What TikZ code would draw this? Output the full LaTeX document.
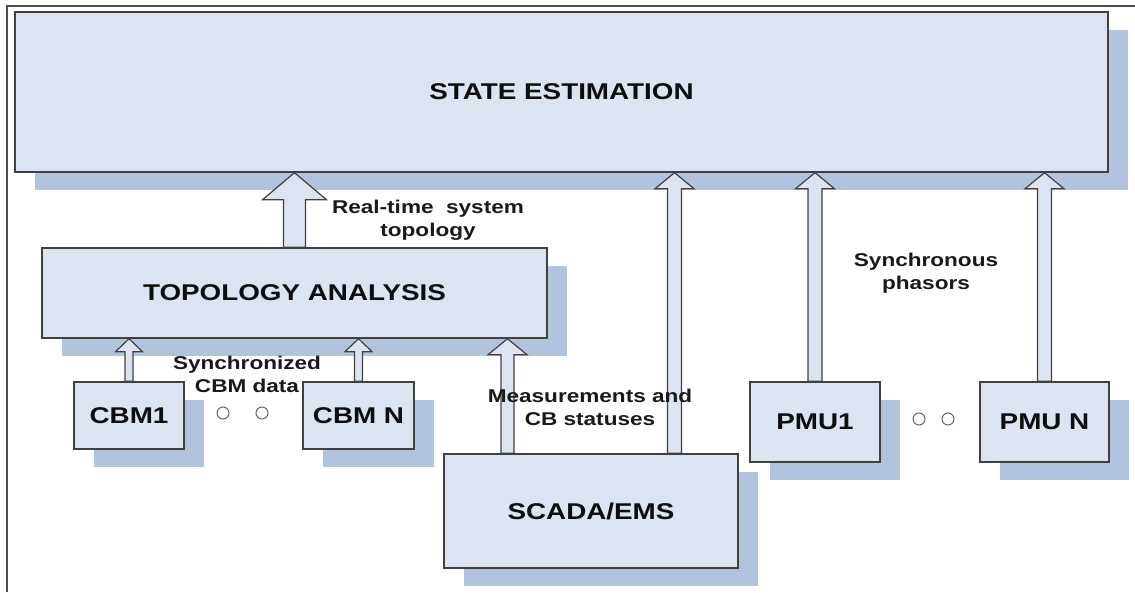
\documentclass[tikz,border=0pt]{standalone}
\usepackage{fontspec}
\setmainfont{Liberation Sans}[FakeStretch=1.22]
\usetikzlibrary{calc,shadows}
\definecolor{boxfill}{RGB}{220,227,241}
\definecolor{shadowblue}{RGB}{176,196,224}
\definecolor{edge}{RGB}{64,64,64}
\newcommand{\boxfont}{\fontsize{22.8}{27}\selectfont\bfseries}
\newcommand{\lblfont}{\fontsize{18.5}{23}\selectfont\bfseries}
\newcommand{\blockup}[5]{\draw[hollow] ($(#1)+(-#3,0)$) -- ($(#2)+(-#3,#5)$) -- ($(#2)+(-#4,#5)$) -- (#2) -- ($(#2)+(#4,#5)$) -- ($(#2)+(#3,#5)$) -- ($(#1)+(#3,0)$) -- cycle;}

\begin{document}
\begin{tikzpicture}[x=1pt,y=-1pt]
                        \tikzstyle{block}=[draw=edge,line width=1.4pt,fill=boxfill,inner sep=0pt,font=\boxfont,text=black!95,drop shadow={shadow xshift=20pt,shadow yshift=-18pt,fill=shadowblue,opacity=1}]
                        \tikzstyle{hollow}=[draw=edge,line width=1.2pt,fill=boxfill,line join=miter]
                        \tikzstyle{lbl}=[align=center,inner sep=0pt,font=\lblfont,text=black!90]
                        \tikzstyle{dot}=[circle,draw=black!60,line width=1pt,fill=white,minimum size=12pt,inner sep=0pt]
                        \useasboundingbox (0,0) rectangle (1135,592);
                        \draw[black!70,line width=2pt] (7,592) -- (7,5.5) -- (1135,5.5);
                        \node[block,minimum width=1093pt,minimum height=160pt] (state) at (561.5,92) {STATE ESTIMATION};
                        \node[block,minimum width=505pt,minimum height=90pt] (topo) at (294.5,293) {TOPOLOGY ANALYSIS};
                        \node[block,minimum width=110pt,minimum height=67pt] (cbm1) at (129,415.5) {CBM1};
                        \node[block,minimum width=111pt,minimum height=67pt] (cbmN) at (358.5,415.5) {CBM N};
                        \node[block,minimum width=294pt,minimum height=114pt] (scada) at (591,511) {SCADA/EMS};
                        \node[block,minimum width=130pt,minimum height=80pt] (pmu1) at (815,422) {PMU1};
                        \node[block,minimum width=129pt,minimum height=80pt] (pmuN) at (1044.5,422) {PMU N};
                        \node[dot] (cdot1) at (223,413) {};
                        \node[dot] (cdot2) at (262,413) {};
                        \node[dot] (pdot1) at (919,419) {};
                        \node[dot] (pdot2) at (948,419) {};
                        \path (scada.north) ++(-83.5,0) coordinate (sc1) ++(167,0) coordinate (sc2);
                        \coordinate (ttopo) at (topo.north |- state.south);
                        \coordinate (tcbm1) at (cbm1.north |- topo.south);
                        \coordinate (tcbmN) at (cbmN.north |- topo.south);
                        \coordinate (tsc1) at (sc1 |- topo.south);
                        \coordinate (tsc2) at (sc2 |- state.south);
                        \coordinate (tpmu1) at (pmu1.north |- state.south);
                        \coordinate (tpmuN) at (pmuN.north |- state.south);
                        \blockup{topo.north}{ttopo}{11}{32}{27}
                        \blockup{cbm1.north}{tcbm1}{4}{13.5}{13}
                        \blockup{cbmN.north}{tcbmN}{4}{13.5}{13}
                        \blockup{sc1}{tsc1}{6.5}{19.5}{16}
                        \blockup{sc2}{tsc2}{7}{19.5}{16}
                        \blockup{pmu1.north}{tpmu1}{7}{19.5}{16}
                        \blockup{pmuN.north}{tpmuN}{7}{19.5}{16}
                        \node[lbl] (rtlbl) at (428,220.5) {Real-time\ \ system\\topology};
                        \node[lbl] (cbmlbl) at (247,374.5) {Synchronized\\CBM data};
                        \node[lbl] (measlbl) at (590,407) {Measurements and\\CB statuses};
                        \node[lbl] (phlbl) at (926,273.5) {Synchronous\\phasors};
                    \end{tikzpicture}
\end{document}
